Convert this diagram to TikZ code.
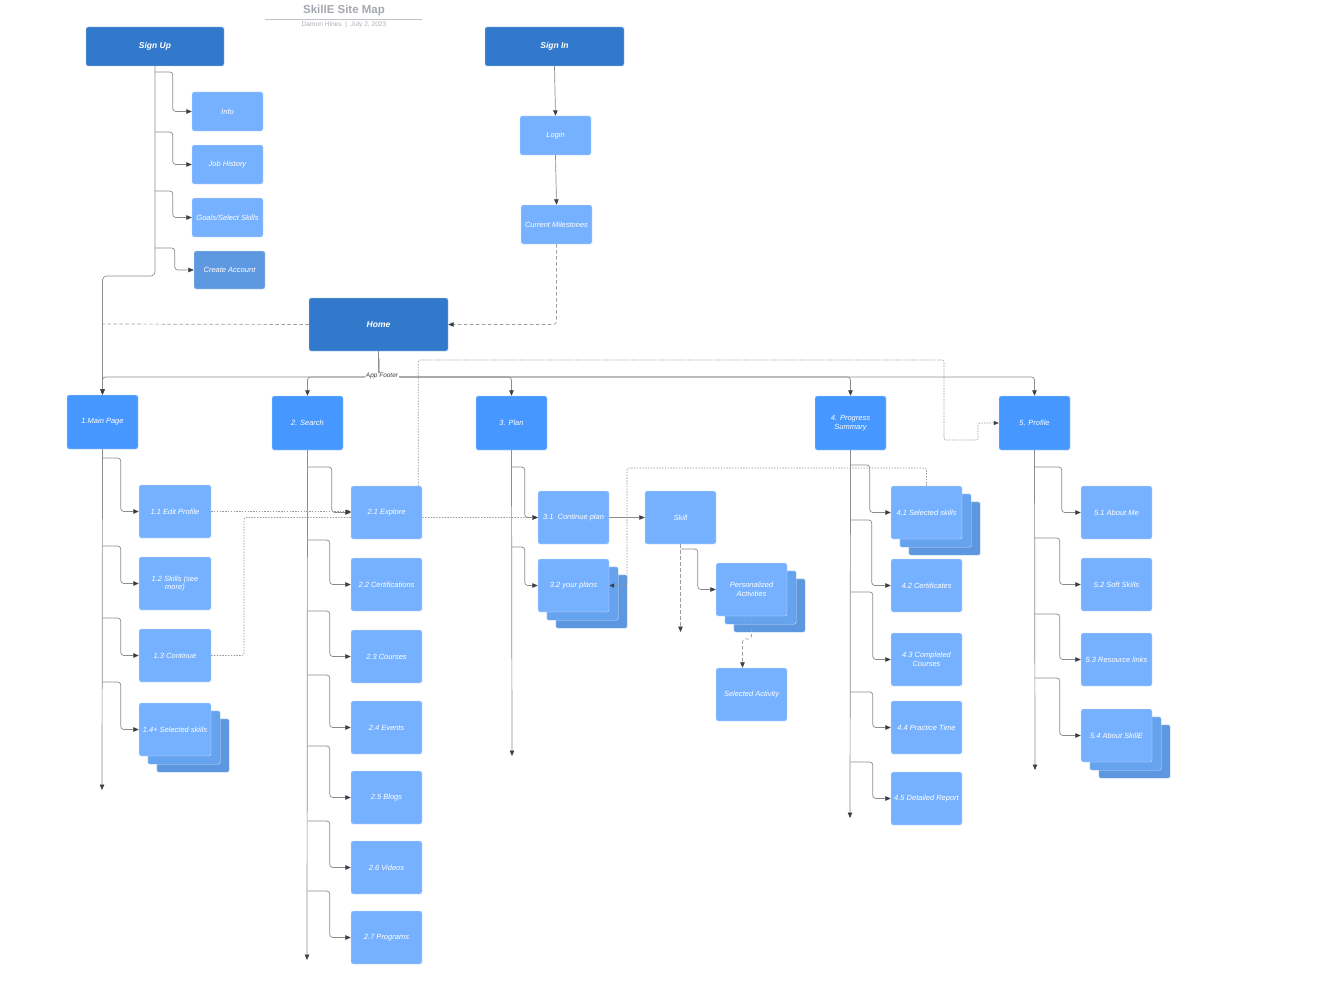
\documentclass[tikz,border=0pt]{standalone}
\usepackage{fontspec}
\setmainfont{Liberation Sans}
\usetikzlibrary{arrows.meta,calc}
\pgfdeclarelayer{back}
\pgfdeclarelayer{front}
\pgfsetlayers{back,main,front}
\definecolor{cdark}{HTML}{3379CB}
\definecolor{cbright}{HTML}{4697FF}
\definecolor{clight}{HTML}{76B1FF}
\definecolor{cmed}{HTML}{5E98E0}
\definecolor{cmid}{HTML}{66A3EE}
\definecolor{cback}{HTML}{5C97DF}
\definecolor{lineg}{HTML}{8C8C8C}
\definecolor{arrowc}{HTML}{3A3F4A}
\definecolor{titleg}{HTML}{A4A8B0}
\newcommand\mybox[7][]{%
  \pgfmathsetmacro\myBW{#5-#3}\pgfmathsetmacro\myBH{#6-#4}%
  \pgfmathsetmacro\myBX{(#3+#5)/2}\pgfmathsetmacro\myBY{(#4+#6)/2}%
  \node[#1,minimum width=\myBW pt,minimum height=\myBH pt] (#2) at (\myBX,\myBY) {#7};}
\newcommand\mybranch[4]{\draw[conn] (#1.south |- 0,#2) -| ([xshift=-#3pt]#4.west) -- (#4.west);}
\newcommand\mystack[1]{%
  \fill[cback,draw=white!70!cback,line width=0.4pt,rounded corners=2pt] ([shift={(18,16)}]#1.south west) rectangle ([shift={(18,16)}]#1.north east);
  \fill[cmid,draw=white!70!cmid,line width=0.4pt,rounded corners=2pt] ([shift={(9,8)}]#1.south west) rectangle ([shift={(9,8)}]#1.north east);}
\begin{document}
\begin{tikzpicture}[x=1pt,y=-1pt,
  basebox/.style={rounded corners=2pt,draw=white!70!clight,line width=0.4pt,text=white,inner sep=1pt,align=center,font=\fontsize{7.5}{8.5}\selectfont\itshape},
  dbox/.style={basebox,fill=cdark,draw=white!70!cdark,font=\fontsize{8.5}{10}\selectfont\bfseries\itshape},
  bbox/.style={basebox,fill=cbright,draw=white!70!cbright},
  lbox/.style={basebox,fill=clight},
  mbox/.style={basebox,fill=cmed,draw=white!70!cmed},
  conn/.style={draw=lineg,line width=0.7pt,rounded corners=3pt,-{Triangle[length=5.5pt,width=4.5pt,color=arrowc]}},
  dashline/.style={draw=lineg!85,line width=0.7pt,rounded corners=3pt,dash pattern=on 3.5pt off 2.5pt},
  dotline/.style={draw=lineg!90,line width=0.6pt,rounded corners=2pt,dash pattern=on 1.4pt off 1.4pt}]
\useasboundingbox (0,0) rectangle (1337,1006);

\begin{pgfonlayer}{front}
% title
\node[text=titleg,font=\fontsize{11.5}{13}\selectfont\bfseries] (title) at (344,10.5) {SkillE Site Map};
\node[text=titleg!90,font=\fontsize{6.6}{8}\selectfont] (sub) at (344,25) {Damon Hines\ \ |\ \ July 2, 2023};
% top level
\mybox[dbox]{signup}{86}{27}{224}{66}{Sign Up}
\mybox[dbox]{signin}{485}{27}{624}{66}{Sign In}
\mybox[lbox]{info}{192}{92}{263}{131}{Info}
\mybox[lbox]{job}{192}{145}{263}{184}{Job History}
\mybox[lbox]{goals}{192}{198}{263}{237}{Goals/Select Skills}
\mybox[mbox]{create}{194}{251}{265}{289}{Create Account}
\mybox[lbox]{login}{520}{116}{591}{155}{Login}
\mybox[lbox]{cm}{521}{205}{592}{244}{Current Milestones}
\mybox[dbox]{home}{309}{298}{448}{351}{Home}
% sections
\mybox[bbox]{n1}{67}{395}{138}{449}{1.Main Page}
\mybox[bbox]{n2}{272}{396}{343}{450}{2. Search}
\mybox[bbox]{n3}{476}{396}{547}{450}{3. Plan}
\mybox[bbox]{n4}{815}{396}{886}{450}{4. Progress\\Summary}
\mybox[bbox]{n5}{999}{396}{1070}{450}{5. Profile}
% column 1
\mybox[lbox]{n11}{139}{485}{211}{538}{1.1 Edit Profile}
\mybox[lbox]{n12}{139}{557}{211}{610}{1.2 Skills (see\\more)}
\mybox[lbox]{n13}{139}{629}{211}{682}{1.3 Continue}
\mybox[lbox]{n14}{139}{703}{211}{756}{1.4+ Selected skills}
% column 2
\mybox[lbox]{n21}{351}{486}{422}{539}{2.1 Explore}
\mybox[lbox]{n22}{351}{558}{422}{611}{2.2 Certifications}
\mybox[lbox]{n23}{351}{630}{422}{683}{2.3 Courses}
\mybox[lbox]{n24}{351}{701}{422}{754}{2.4 Events}
\mybox[lbox]{n25}{351}{771}{422}{824}{2.5 Blogs}
\mybox[lbox]{n26}{351}{841}{422}{894}{2.6 Videos}
\mybox[lbox]{n27}{351}{911}{422}{964}{2.7 Programs}
% column 3
\mybox[lbox]{n31}{538}{491}{609}{544}{3.1\ \ Continue plan}
\mybox[lbox]{n32}{538}{559}{609}{612}{3.2 your plans}
\mybox[lbox]{skill}{645}{491}{716}{544}{Skill}
\mybox[lbox]{pa}{716}{563}{787}{616}{Personalized\\Activities}
\mybox[lbox]{sa}{716}{668}{787}{721}{Selected Activity}
% column 4
\mybox[lbox]{n41}{891}{486}{962}{539}{4.1 Selected skills}
\mybox[lbox]{n42}{891}{559}{962}{612}{4.2 Certificates}
\mybox[lbox]{n43}{891}{633}{962}{686}{4.3 Completed\\Courses}
\mybox[lbox]{n44}{891}{701}{962}{754}{4.4 Practice Time}
\mybox[lbox]{n45}{891}{772}{962}{825}{4.5 Detailed Report}
% column 5
\mybox[lbox]{n51}{1081}{486}{1152}{539}{5.1 About Me}
\mybox[lbox]{n52}{1081}{558}{1152}{611}{5.2 Soft Skills}
\mybox[lbox]{n53}{1081}{633}{1152}{686}{5.3 Resource links}
\mybox[lbox]{n54}{1081}{709}{1152}{762}{5.4 About SkillE}
% footer label
\node[fill=white,inner sep=0.5pt,text=black!75,font=\fontsize{6.5}{7.5}\selectfont\itshape] (footer) at (382,376) {App Footer};
\end{pgfonlayer}

\begin{pgfonlayer}{back}
\fill[white] (0,0) rectangle (1337,1006);
\mystack{n14}
\mystack{n32}
\mystack{pa}
\mystack{n41}
\mystack{n54}
\end{pgfonlayer}

% title rule
\draw[color=titleg!70,line width=1.2pt] (title.south west -| 265,0) -- (title.south east -| 422,0);

% free ends
\coordinate (e1) at (102,790);
\coordinate (e2) at (307,960);
\coordinate (e3) at (512,756);
\coordinate (e4) at (850,818);
\coordinate (e5) at (1035,770);
\coordinate (eskill) at (680.5,632);
\coordinate (ehome) at (102,324);

% sign up
\draw[conn,rounded corners=4pt] (signup.south) |- (130,276) -| (n1.north);
\mybranch{signup}{72}{19}{info}
\mybranch{signup}{132}{19}{job}
\mybranch{signup}{191}{19}{goals}
\mybranch{signup}{248}{19}{create}
% sign in
\draw[conn] (signin.south) -- (login.north);
\draw[conn] (login.south) -- (cm.north);
\draw[dashline,-{Triangle[length=5.5pt,width=4.5pt,color=arrowc]}] (cm.south) |- (home.east);
\draw[dashline] (home.west) -- (ehome);
% home to sections
\draw[conn] (home.south) -- (379,377) -| (n1.north);
\draw[conn] (home.south) -- (379,377) -| (n2.north);
\draw[conn] (home.south) -- (379,377) -| (n3.north);
\draw[conn] (home.south) -- (379,377) -| (n4.north);
\draw[conn] (home.south) -- (379,377) -| (n5.north);
% trunks
\draw[conn] (n1.south) -- (e1);
\draw[conn] (n2.south) -- (e2);
\draw[conn] (n3.south) -- (e3);
\draw[conn] (n4.south) -- (e4);
\draw[conn] (n5.south) -- (e5);
% column 1 branches
\mybranch{n1}{458}{18}{n11}
\mybranch{n1}{546}{18}{n12}
\mybranch{n1}{618}{18}{n13}
\mybranch{n1}{682}{18}{n14}
% column 2 branches
\mybranch{n2}{467}{19}{n21}
\mybranch{n2}{540}{21}{n22}
\mybranch{n2}{611}{21}{n23}
\mybranch{n2}{675}{21}{n24}
\mybranch{n2}{746}{21}{n25}
\mybranch{n2}{821}{21}{n26}
\mybranch{n2}{891}{21}{n27}
% column 3 branches
\mybranch{n3}{467}{13}{n31}
\mybranch{n3}{547}{13}{n32}
\draw[conn] (n31.east) -- (skill.west);
\draw[dashline,-{Triangle[length=5.5pt,width=4.5pt,color=arrowc]}] (skill.south) -- (eskill);
\mybranch{skill}{549}{18}{pa}
\draw[dashline,-{Triangle[length=5.5pt,width=4.5pt,color=arrowc]}] (pa.south) -- (751.5,639) -| ([xshift=-9pt]sa.north);
% column 4 branches
\mybranch{n4}{465}{21}{n41}
\mybranch{n4}{520}{19}{n42}
\mybranch{n4}{592}{18}{n43}
\mybranch{n4}{692}{18}{n44}
\mybranch{n4}{762}{18}{n45}
% column 5 branches
\mybranch{n5}{467}{19}{n51}
\mybranch{n5}{538}{21}{n52}
\mybranch{n5}{614}{21}{n53}
\mybranch{n5}{678}{21}{n54}
% dotted cross links
\draw[dotline,-{Triangle[length=5pt,width=4pt,color=arrowc]}] (n11.east) -- (n11.east -| n21.west);
\draw[dotline,-{Triangle[length=5pt,width=4pt,color=arrowc]}] (n13.east) -- (244,655.5) |- (n31.west);
\draw[dotline,-{Triangle[length=5pt,width=4pt,color=arrowc]}] ($(n21.north east)+(-4,0)$) |- (944,360) |- (978,440) |- (n5.west);
\draw[dotline,-{Triangle[length=5pt,width=4pt,color=arrowc]}] (n41.north) |- (627,468) |- (n32.east);
\end{tikzpicture}
\end{document}
